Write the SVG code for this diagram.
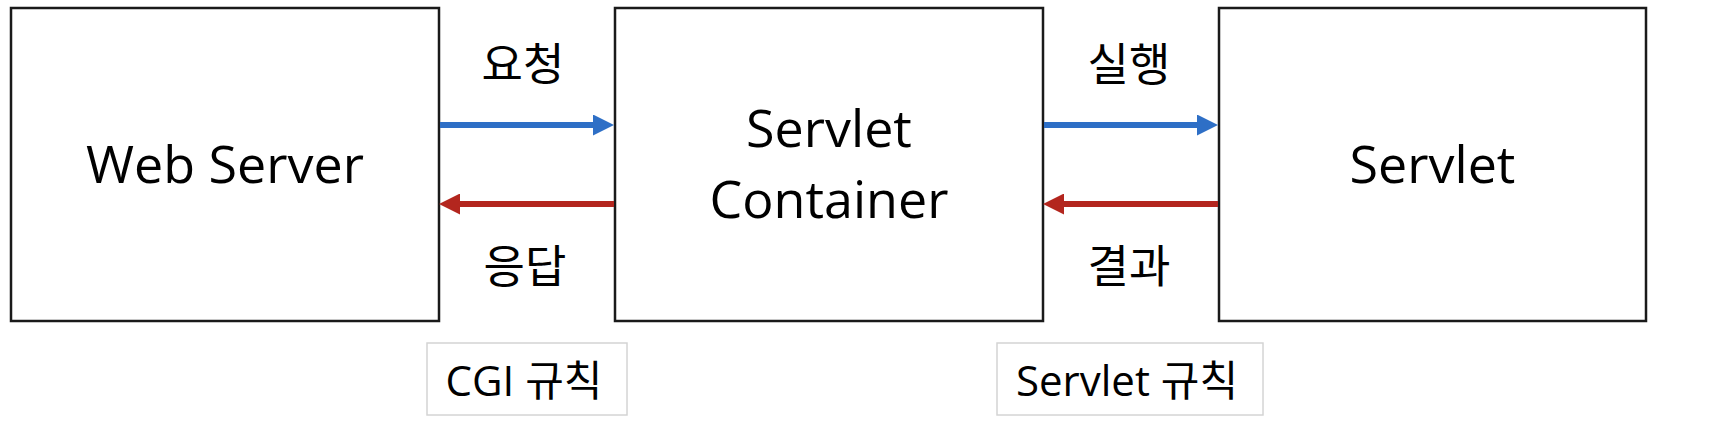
<svg xmlns="http://www.w3.org/2000/svg" width="1714" height="422" viewBox="0 0 1714 422">
  <style>
    .box { fill: #ffffff; stroke: #1a1a1a; stroke-width: 2.5; }
    .rule { fill: #ffffff; stroke: #d4d4d4; stroke-width: 1.5; }
    .t { font-family: "Open Sans", "Noto Sans CJK KR", sans-serif; fill: #000000; text-anchor: middle; }
    .big { font-size: 52px; }
    .lbl { font-size: 45px; }
    .rt { font-size: 42px; }
    .blue { stroke: #2E6FC6; stroke-width: 6; fill: none; }
    .red { stroke: #B3261E; stroke-width: 6; fill: none; }
  </style>
  <defs>
    <marker id="headBlue" markerUnits="userSpaceOnUse" markerWidth="21" markerHeight="21" refX="7" refY="10.5" orient="auto">
      <path d="M0,0 L21,10.5 L0,21 z" fill="#2E6FC6"/>
    </marker>
    <marker id="headRed" markerUnits="userSpaceOnUse" markerWidth="21" markerHeight="21" refX="7" refY="10.5" orient="auto">
      <path d="M0,0 L21,10.5 L0,21 z" fill="#B3261E"/>
    </marker>
  </defs>
  <rect width="1714" height="422" fill="#ffffff"/>

  <g id="web-server">
    <rect class="box" x="11" y="8" width="428" height="313"/>
    <text class="t big" x="225" y="183">Web Server</text>
  </g>

  <g id="servlet-container">
    <rect class="box" x="615" y="8" width="428" height="313"/>
    <text class="t big" x="829" y="147">Servlet</text>
    <text class="t big" x="829" y="218">Container</text>
  </g>

  <g id="servlet">
    <rect class="box" x="1219" y="8" width="427" height="313"/>
    <text class="t big" x="1432.5" y="183">Servlet</text>
  </g>

  <g id="cgi-rule">
    <rect class="rule" x="427" y="343" width="200" height="72"/>
    <text class="t rt" x="524" y="396">CGI 규칙</text>
  </g>

  <g id="servlet-rule">
    <rect class="rule" x="997" y="343" width="266" height="72"/>
    <text class="t rt" x="1127" y="396">Servlet 규칙</text>
  </g>

  <g id="connectors">
    <line class="blue" x1="440" y1="125" x2="600" y2="125" marker-end="url(#headBlue)"/>
    <line class="red" x1="614" y1="204" x2="453" y2="204" marker-end="url(#headRed)"/>
    <line class="blue" x1="1044" y1="125" x2="1204" y2="125" marker-end="url(#headBlue)"/>
    <line class="red" x1="1218" y1="204" x2="1057" y2="204" marker-end="url(#headRed)"/>
    <text class="t lbl" x="523" y="81">요청</text>
    <text class="t lbl" x="525" y="283">응답</text>
    <text class="t lbl" x="1129" y="81">실행</text>
    <text class="t lbl" x="1129" y="283">결과</text>
  </g>
</svg>
